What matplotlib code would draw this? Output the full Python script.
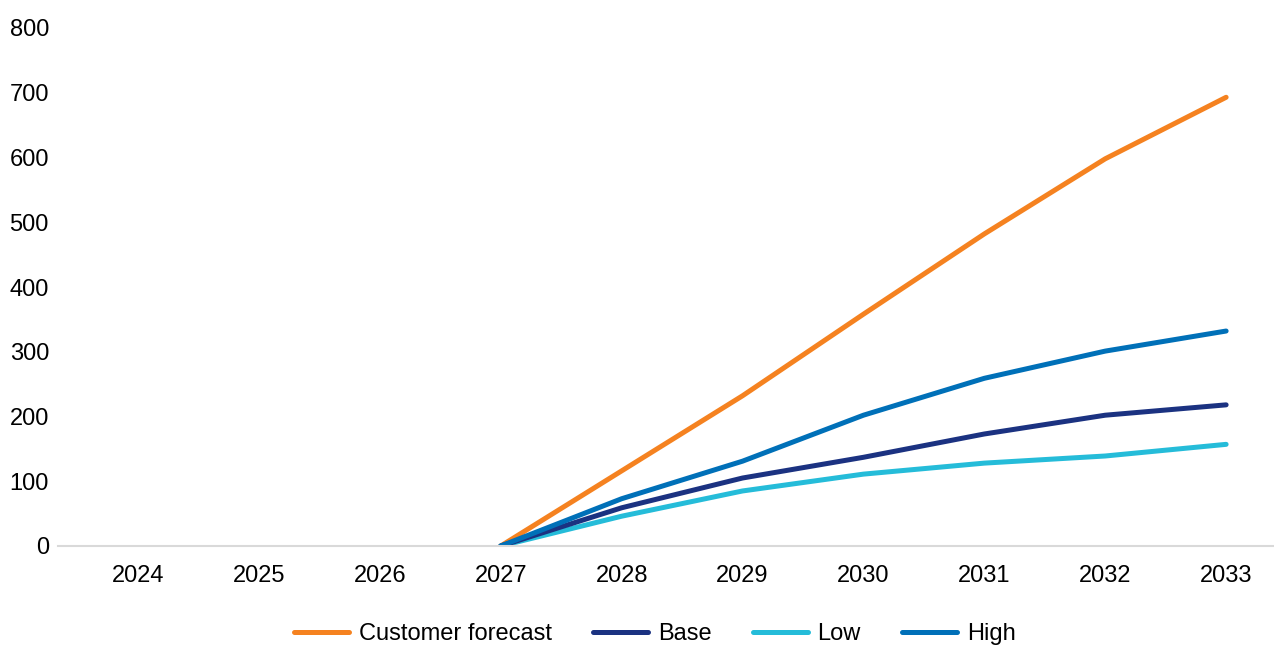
import numpy as np
import matplotlib.pyplot as plt

plt.rcParams["font.family"] = ["Liberation Sans", "DejaVu Sans"]

years = ["2024", "2025", "2026", "2027", "2028", "2029", "2030", "2031", "2032", "2033"]
customer_forecast = [None, None, None, 0, 116, 232, 358, 482, 598, 693]
base = [None, None, None, 0, 59, 105, 137, 173, 202, 218]
low = [None, None, None, 0, 46, 85, 111, 128, 139, 157]
high = [None, None, None, 0, 73, 131, 202, 259, 301, 332]

series = [
    ("Customer forecast", customer_forecast, "#F58220"),
    ("Base", base, "#1B3281"),
    ("Low", low, "#25BCD9"),
    ("High", high, "#0070B8"),
]

fig = plt.figure(figsize=(12.74, 6.51), dpi=100)
ax = fig.add_axes([58 / 1274, 105 / 651, 1216 / 1274, 518 / 651])

x = np.arange(len(years))
# draw order: orange, low, base, high on top like the reference
for name, vals, color in [series[0], series[2], series[1], series[3]]:
    y = np.array([np.nan if v is None else v for v in vals], dtype=float)
    ax.plot(x, y, color=color, lw=3.6, solid_capstyle="round", solid_joinstyle="round", label=name)

ax.set_xlim(-0.662, 9.396)
ax.set_ylim(0, 800)
ax.set_yticks(range(0, 801, 100))
ax.set_xticks(x)
ax.set_xticklabels(years)
ax.tick_params(axis="both", length=0, labelsize=17, colors="black")
ax.tick_params(axis="x", pad=14)
ax.tick_params(axis="y", pad=6.5)

for side in ["top", "right", "left"]:
    ax.spines[side].set_visible(False)
ax.spines["bottom"].set_color("#D9D9D9")
ax.spines["bottom"].set_linewidth(1.5)

handles, labels = ax.get_legend_handles_labels()
order = [labels.index(s[0]) for s in series]
leg = fig.legend([handles[i] for i in order], [labels[i] for i in order],
                 loc="center", bbox_to_anchor=(0.514, 0.026), ncol=4, frameon=False,
                 fontsize=17, handlelength=2.33, handletextpad=0.42, columnspacing=1.74)

fig.savefig("out.png", dpi=100)
